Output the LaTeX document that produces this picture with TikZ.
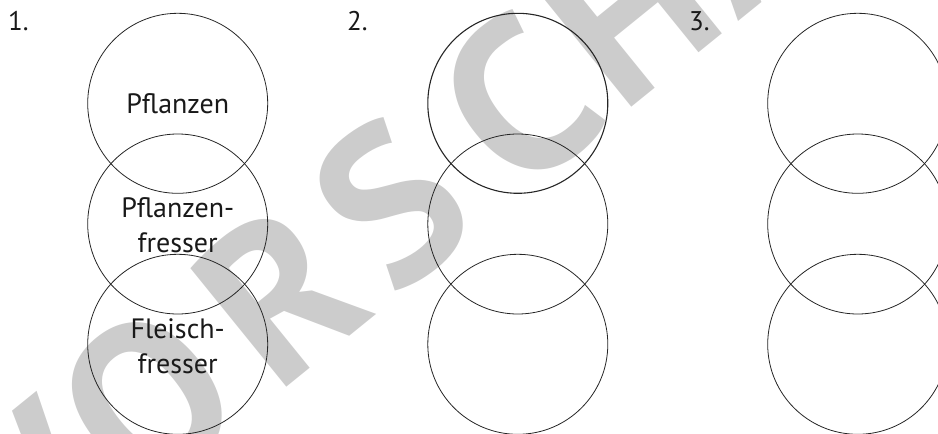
\documentclass[tikz,border=0pt]{standalone}
\usepackage{fontspec}
\setmainfont{PT Sans}
\newfontfamily\wmfont{PT Sans}
\begin{document}
\begin{tikzpicture}[x=1pt,y=-1pt,
  ring/.style={circle,draw=black!85,line width=0.8pt,minimum size=180pt,inner sep=0pt},
  lbl/.style={font=\fontsize{28}{35}\selectfont,align=center,inner sep=0pt,text=black!90,anchor=base},
  num/.style={font=\fontsize{27}{32}\selectfont,anchor=north west,inner sep=0pt,text=black!90},
  wmark/.style={rotate=39,anchor=base,text=black!20,inner sep=0pt,font=\wmfont\bfseries\fontsize{220}{220}\selectfont}]
\useasboundingbox (0,0) rectangle (938,434);
% watermark
\node[wmark] (w1) at (81.1,553.7) {V};
\node[wmark] (w2) at (196,460.6) {O};
\node[wmark] (w3) at (327.8,353.9) {R};
\node[wmark] (w4) at (440.1,263.1) {S};
\node[wmark] (w5) at (565.9,161.2) {C};
\node[wmark] (w6) at (677.6,70.6) {H};
\node[wmark] (w7) at (790.3,-20.6) {A};
\node[wmark] (w8) at (906.8,-114.9) {U};
% set 1
\node[ring] (a1) at (177.7,103.3) {};
\node[ring] (a2) at (177.7,224) {};
\node[ring] (a3) at (177.7,344.3) {};
% set 2
\node[ring,line width=1.1pt] (b1) at (517.8,103.3) {};
\node[ring] (b2) at (517.8,224) {};
\node[ring] (b3) at (517.8,344.3) {};
% set 3
\node[ring] (c1) at (857.7,103.3) {};
\node[ring] (c2) at (857.7,224) {};
\node[ring] (c3) at (857.7,344.3) {};
% numbers
\node[num] (n1) at (8,11) {1.};
\node[num] (n2) at (347,11) {2.};
\node[num] (n3) at (689,11) {3.};
% labels
\node[lbl] (t1) at (177.7,113) {Pflanzen};
\node[lbl] (t2) at (177.7,252) {Pflanzen-\\fresser};
\node[lbl] (t3) at (177.7,373) {Fleisch-\\fresser};
\end{tikzpicture}
\end{document}
